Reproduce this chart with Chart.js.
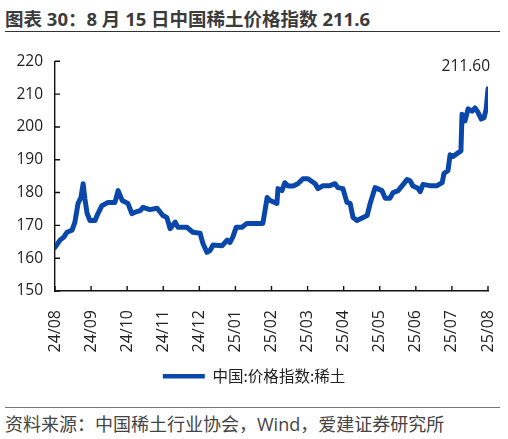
<!DOCTYPE html>
<html lang="zh">
<head>
<meta charset="UTF-8">
<title>中国稀土价格指数</title>
<script src="https://cdn.jsdelivr.net/npm/chart.js"></script>
<style>
  html, body { margin: 0; padding: 0; background: #fff; }
  body { width: 508px; height: 439px; position: relative; overflow: hidden;
         font-family: "Noto Sans", "Noto Sans CJK SC", sans-serif; }
  #title { position: absolute; left: 5px; top: 5px; font-size: 18.5px; font-weight: bold;
           color: #3b3b3b; white-space: nowrap; font-family: "Open Sans", "Noto Sans CJK SC", sans-serif; }
  #topline { position: absolute; left: 5px; top: 31px; width: 495px; height: 0;
             border-top: 1.6px solid #333; }
  #wrap { position: absolute; left: 0; top: 40px; width: 508px; height: 360px; }
  #botline { position: absolute; left: 5px; top: 407px; width: 495px; height: 0;
             border-top: 1px solid #777; }
  #source { position: absolute; left: 5px; top: 410px; font-size: 18px; color: #444;
            white-space: nowrap; font-family: "Open Sans", "Noto Sans CJK SC", sans-serif; }
</style>
</head>
<body>
<div id="title">图表 30：8 月 15 日中国稀土价格指数 211.6</div>
<div id="topline"></div>
<div id="wrap"><canvas id="priceChart"></canvas></div>
<div id="botline"></div>
<div id="source">资料来源：中国稀土行业协会，Wind，爱建证券研究所</div>
<script>
// x 轴刻度（月份）
const monthLabels = ['24/08', '24/09', '24/10', '24/11', '24/12', '25/01', '25/02',
  '25/03', '25/04', '25/05', '25/06', '25/07', '25/08'];

// 时间位置（从 24/08 起的月数）与指数值
const monthPos = [
  0, 0.14, 0.25, 0.33, 0.47, 0.55, 0.64, 0.72, 0.78, 0.83, 0.89, 0.97,
  1.11, 1.19, 1.30, 1.47, 1.66, 1.75, 1.86, 2.02, 2.13, 2.22, 2.36, 2.44,
  2.63, 2.83, 2.99, 3.10, 3.19, 3.33, 3.41, 3.66, 3.82, 4.02, 4.10, 4.21,
  4.30, 4.38, 4.63, 4.77, 4.85, 4.93, 5.02, 5.18, 5.32, 5.76, 5.82, 5.88,
  5.96, 6.15, 6.18, 6.29, 6.37, 6.46, 6.60, 6.73, 6.87, 7.01, 7.21, 7.29,
  7.43, 7.62, 7.76, 7.84, 7.98, 8.09, 8.18, 8.26, 8.37, 8.65, 8.73, 8.87,
  9.06, 9.15, 9.28, 9.37, 9.51, 9.65, 9.76, 9.84, 9.92, 10.06, 10.12, 10.20,
  10.39, 10.59, 10.73, 10.78, 10.89, 10.95, 11.03, 11.17, 11.25, 11.28, 11.36, 11.45,
  11.56, 11.64, 11.72, 11.81, 11.89, 11.95, 12.0
];
const priceIndex = [
  163.3, 165.5, 166.5, 167.9, 168.5, 170.9, 176.7, 178.5, 182.7, 178.0, 173.6, 171.5,
  171.5, 173.6, 176.0, 177.0, 177.0, 180.6, 177.6, 176.7, 173.6, 174.0, 174.5, 175.5,
  174.8, 175.2, 173.0, 172.4, 169.0, 171.0, 169.4, 169.4, 167.9, 167.6, 164.5, 161.8,
  162.4, 164.0, 163.8, 165.5, 164.8, 166.5, 169.4, 169.4, 170.6, 170.6, 174.5, 178.5,
  177.6, 176.7, 181.2, 180.6, 183.0, 182.0, 182.0, 182.7, 184.2, 184.2, 182.7, 181.2,
  182.1, 182.1, 182.7, 181.5, 181.2, 177.0, 176.7, 172.4, 171.5, 173.0, 176.5, 181.5,
  180.6, 178.3, 178.3, 180.0, 180.6, 182.5, 184.0, 183.6, 182.0, 181.3, 180.3, 182.5,
  182.1, 182.1, 183.0, 185.8, 186.7, 191.5, 191.0, 192.1, 192.7, 203.9, 201.8, 205.5,
  204.8, 205.8, 204.5, 202.4, 202.8, 205.5, 211.6
];
const yTicks = [150, 160, 170, 180, 190, 200, 210, 220];

const lineColor = '#0a47ab';
const axisFont = { family: '"Open Sans", "Noto Sans", sans-serif', size: 15.5 };

// 刻度线朝内，并标注最新值
const innerTicks = {
  id: 'innerTicks',
  afterDraw(chart) {
    const { ctx, scales: { x, y } } = chart;
    ctx.save();
    ctx.strokeStyle = '#111';
    ctx.lineWidth = 1.4;
    ctx.beginPath();
    yTicks.forEach(v => {
      const py = y.getPixelForValue(v);
      ctx.moveTo(x.left, py);
      ctx.lineTo(x.left + 5, py);
    });
    monthLabels.forEach((_, i) => {
      const px = x.getPixelForValue(i);
      ctx.moveTo(px, y.bottom);
      ctx.lineTo(px, y.bottom - 5);
    });
    ctx.stroke();

    const last = priceIndex.length - 1;
    const lx = x.getPixelForValue(monthPos[last]);
    const ly = y.getPixelForValue(priceIndex[last]);
    ctx.fillStyle = '#222';
    ctx.font = '15.5px "Open Sans", "Noto Sans", sans-serif';
    ctx.textAlign = 'right';
    ctx.textBaseline = 'bottom';
    ctx.fillText(priceIndex[last].toFixed(2), lx + 2, ly - 15);
    ctx.restore();
  }
};

new Chart(document.getElementById('priceChart'), {
  type: 'line',
  data: {
    datasets: [{
      label: '中国:价格指数:稀土',
      data: monthPos.map((m, i) => ({ x: m, y: priceIndex[i] })),
      borderColor: lineColor,
      backgroundColor: lineColor,
      borderWidth: 5,
      pointRadius: 0,
      tension: 0,
      borderJoinStyle: 'round',
      borderCapStyle: 'round'
    }]
  },
  options: {
    responsive: true,
    maintainAspectRatio: false,
    animation: false,
    layout: { padding: { left: 10, right: 10, top: 19.5, bottom: 6 } },
    plugins: {
      legend: {
        position: 'bottom',
        labels: {
          boxWidth: 42,
          boxHeight: 4.5,
          padding: 10,
          color: '#222',
          font: { family: '"Noto Sans CJK SC", sans-serif', size: 15.5 },
          generateLabels: chart =>
            Chart.defaults.plugins.legend.labels.generateLabels(chart)
              .map(item => ({ ...item, lineWidth: 0 }))
        }
      },
      tooltip: { enabled: false }
    },
    scales: {
      x: {
        type: 'linear',
        min: 0,
        max: 12,
        afterFit: s => {
          s.height = 67.5;
          s.paddingLeft = 0;
          s.paddingRight = 20;
        },
        grid: { display: false, drawTicks: false },
        border: { display: true, color: '#111', width: 1.4 },
        ticks: {
          stepSize: 1,
          autoSkip: false,
          minRotation: 90,
          maxRotation: 90,
          padding: 19,
          color: '#222',
          font: { family: '"Open Sans", "Noto Sans", sans-serif', size: 16 },
          callback: v => monthLabels[v]
        }
      },
      y: {
        min: 150,
        max: 220,
        afterFit: s => { s.width = 45; },
        grid: { display: false, drawTicks: false },
        border: { display: true, color: '#111', width: 1.4 },
        ticks: {
          stepSize: 10,
          padding: 12,
          color: '#222',
          font: axisFont
        }
      }
    }
  },
  plugins: [innerTicks]
});
</script>
</body>
</html>
